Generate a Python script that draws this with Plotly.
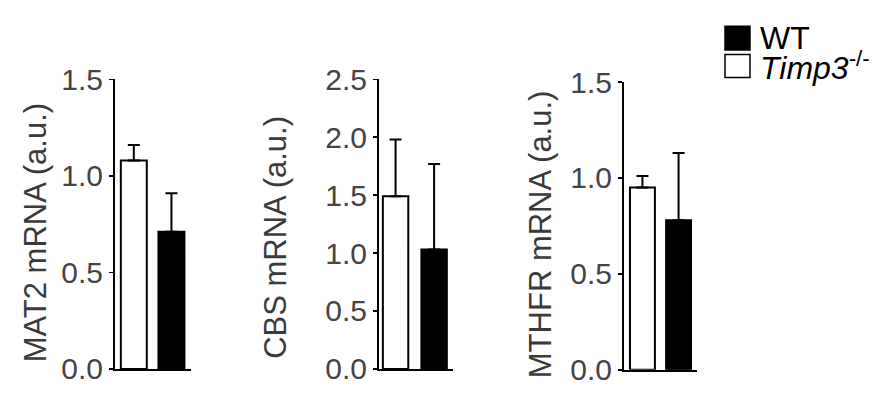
import plotly.graph_objects as go

# ---- data ----
groups = ["Timp3-/-", "WT"]
panel_titles = ["MAT2 mRNA (a.u.)", "CBS mRNA (a.u.)", "MTHFR mRNA (a.u.)"]
mat2_mean = [1.08, 0.71]
mat2_sem = [0.08, 0.20]
cbs_mean = [1.49, 1.03]
cbs_sem = [0.49, 0.74]
mthfr_mean = [0.95, 0.78]
mthfr_sem = [0.06, 0.35]
y_max = [1.5, 2.5, 1.5]
y_ticks = [[0, 0.5, 1.0, 1.5], [0, 0.5, 1.0, 1.5, 2.0, 2.5], [0, 0.5, 1.0, 1.5]]
legend_labels = ["WT", "<i>Timp3</i><sup>-/-</sup>"]

means = [mat2_mean, cbs_mean, mthfr_mean]
sems = [mat2_sem, cbs_sem, mthfr_sem]

W, H = 878, 407
FONT = "Liberation Sans, Arial, sans-serif"

# layout geometry (pixels)
x_dom_px = [(115, 191), (379, 453), (624, 697)]
y_dom_px = [(384, 68), (384, 68), (385, 71)]
x_ranges = [(-0.50, 1.52), (-0.43, 1.49), (-0.51, 1.51)]
bar_widths = [0.69, 0.66, 0.69]
title_x_px = [35, 276, 540]
title_y_px = [235, 241, 237]

fig = go.Figure()
for i in range(3):
    xa = "x" if i == 0 else f"x{i+1}"
    ya = "y" if i == 0 else f"y{i+1}"
    fig.add_trace(go.Bar(
        x=groups, y=means[i], xaxis=xa, yaxis=ya,
        width=bar_widths[i],
        marker=dict(color=["white", "black"], line=dict(color="black", width=2)),
        error_y=dict(type="data", symmetric=False, array=sems[i], arrayminus=[0, 0],
                     color="black", thickness=2, width=6),
        showlegend=False, hoverinfo="skip",
    ))

layout = dict(
    width=W, height=H, margin=dict(l=0, r=0, t=0, b=0),
    paper_bgcolor="white", plot_bgcolor="white",
    font=dict(family=FONT, color="#333"),
    showlegend=False,
)
for i in range(3):
    xk = "xaxis" if i == 0 else f"xaxis{i+1}"
    yk = "yaxis" if i == 0 else f"yaxis{i+1}"
    x0, x1 = x_dom_px[i]
    yb, yt = y_dom_px[i]
    layout[xk] = dict(
        domain=[x0 / W, x1 / W], range=list(x_ranges[i]),
        anchor="y" if i == 0 else f"y{i+1}",
        showticklabels=False, ticks="", showgrid=False, zeroline=False,
        showline=True, linecolor="black", linewidth=2, fixedrange=True,
    )
    layout[yk] = dict(
        domain=[1 - yb / H, 1 - yt / H], range=[0, y_max[i]],
        anchor="x" if i == 0 else f"x{i+1}",
        tickvals=y_ticks[i], tickformat=".1f",
        ticks="outside", ticklen=4, tickwidth=1.5, tickcolor="black",
        tickfont=dict(family=FONT, size=30, color="#444"),
        showgrid=False, zeroline=False,
        showline=True, linecolor="black", linewidth=2, fixedrange=True,
    )
fig.update_layout(**layout)

# axis titles
for i in range(3):
    fig.add_annotation(
        text=panel_titles[i], textangle=-90,
        x=title_x_px[i] / W, y=1 - title_y_px[i] / H, xref="paper", yref="paper",
        xanchor="center", yanchor="middle", showarrow=False,
        font=dict(family=FONT, size=31, color="#3a3a3a"),
    )

# legend (manual)
leg_fill = ["black", "white"]
leg_rows_px = [(10, 36), (41, 66)]
for k in range(2):
    t, b = leg_rows_px[k]
    fig.add_shape(type="rect", xref="paper", yref="paper",
                  x0=725 / W, x1=750 / W, y0=1 - b / H, y1=1 - t / H,
                  fillcolor=leg_fill[k], line=dict(color="black", width=1.5))
    fig.add_annotation(
        text=legend_labels[k], x=758 / W, y=1 - (t + b) / 2 / H,
        xref="paper", yref="paper", xanchor="left", yanchor="middle",
        showarrow=False, font=dict(family=FONT, size=32, color="black"),
    )

fig.write_html("out.html", config={"displayModeBar": False, "staticPlot": True},
               post_script="document.body.style.margin='0';")
